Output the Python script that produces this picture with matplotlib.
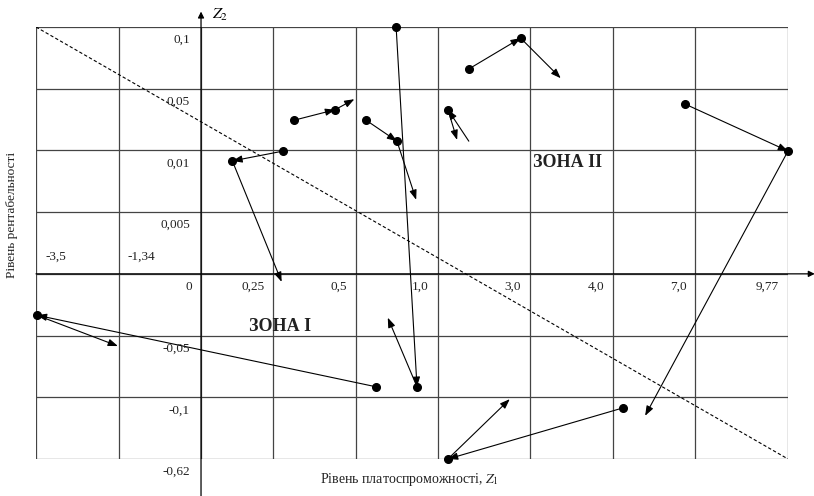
import numpy as np
import matplotlib
matplotlib.use('Agg')
import matplotlib.pyplot as plt

plt.rcParams['font.family'] = ['Liberation Serif', 'DejaVu Serif']
plt.rcParams['mathtext.fontset'] = 'stix'

# траєкторії підприємств (одиниці сітки: по x - клітинки, по y - рядки)
traj_x = [
    [4.31, 4.56, 4.21],
    [3.09, 3.58, 3.81],
    [2.96, 2.35, 2.94],
    [3.95, 4.32, 4.55],
    [5.18, 5.80, 6.28],
    [5.18, 4.93, 5.04],
    [7.77, 9.00, 7.29],
    [4.07, 0.01, 0.98],
    [7.03, 4.93, 5.67],
]
traj_y = [
    [7.00, 1.17, 2.29],
    [5.49, 5.66, 5.83],
    [4.99, 4.83, 2.87],
    [5.49, 5.15, 4.20],
    [6.32, 6.82, 6.17],
    [5.15, 5.66, 5.17],
    [5.75, 4.99, 0.70],
    [1.17, 2.33, 1.83],
    [0.83, 0.00, 0.97],
]
start_dot = [True, True, True, True, True, False, True, True, True]

x_labels = ['-3,5', '-1,34', '0', '0,25', '0,5', '1,0', '3,0', '4,0', '7,0', '9,77']
y_labels = ['0,1', '0,05', '0,01', '0,005', '', '-0,05', '-0,1', '-0,62']

# положення ліній сітки
col_lines = [0, 0.993, 1.975, 2.84, 3.83, 4.81, 5.91, 6.905, 7.89, 9]
row_lines = np.arange(7, -1, -1)

fig = plt.figure(figsize=(8.14, 4.96), dpi=100)
ax = fig.add_axes([36 / 814, 37 / 496, 752 / 814, 432 / 496])
ax.set_xlim(0, 9)
ax.set_ylim(0, 7)
ax.axis('off')

gc = '#444444'
ax.vlines(col_lines, 0, 7, color=gc, lw=0.9, zorder=1)
ax.hlines(row_lines, 0, 9, color=gc, lw=0.9, zorder=1)

# осі
ax.annotate('', xy=(9.32, 3), xytext=(0, 3), annotation_clip=False,
            arrowprops=dict(arrowstyle='-|>', lw=0.9, color='black',
                            shrinkA=0, shrinkB=0, mutation_scale=9))
ax.annotate('', xy=(col_lines[2], 7.25), xytext=(col_lines[2], -0.6), annotation_clip=False,
            arrowprops=dict(arrowstyle='-|>', lw=0.9, color='black',
                            shrinkA=0, shrinkB=0, mutation_scale=9))

# розділова лінія зон
ax.plot([0, 9], [7, 0], color='black', lw=0.8, ls=(0, (3, 2)), zorder=2)

# траєкторії
for xs, ys, sd in zip(traj_x, traj_y, start_dot):
    for i in range(len(xs) - 1):
        ax.annotate('', xy=(xs[i + 1], ys[i + 1]), xytext=(xs[i], ys[i]),
                    annotation_clip=False,
                    arrowprops=dict(arrowstyle='-|>,head_length=0.65,head_width=0.24',
                                    lw=0.8, color='black', shrinkA=0, shrinkB=0,
                                    mutation_scale=9), zorder=3)
    dx = xs[:-1] if sd else xs[1:-1]
    dy = ys[:-1] if sd else ys[1:-1]
    ax.plot(dx, dy, 'o', ms=5.5, color='black', zorder=4, clip_on=False)

# підписи по осі x
tfs = 9.5
for k, lab in enumerate(x_labels):
    if k < 2:
        ax.annotate(lab, (col_lines[k], 3), xytext=(9, 17), textcoords='offset pixels',
                    ha='left', va='center', fontsize=tfs, color='#222222')
    else:
        ax.annotate(lab, (col_lines[k], 3), xytext=(-9, -13), textcoords='offset pixels',
                    ha='right', va='center', fontsize=tfs, color='#222222')

# підписи по осі y
for r, lab in zip(row_lines, y_labels):
    if lab:
        ax.annotate(lab, (col_lines[2], r), xytext=(-11, -13), textcoords='offset pixels',
                    ha='right', va='center', fontsize=tfs, color='#222222')

ax.text(5.95, 4.81, 'ЗОНА II', fontsize=13, fontweight='bold', ha='left', va='center',
        color='#222222')
ax.text(2.55, 2.14, 'ЗОНА I', fontsize=13, fontweight='bold', ha='left', va='center',
        color='#222222')

fig.text(212 / 814, 1 - 15 / 496, '$Z_2$', fontsize=11.5, ha='left', va='center')
fig.text(320 / 814, 1 - 480 / 496, 'Рівень платоспроможності, $Z_1$', fontsize=10,
         ha='left', va='center', color='#222222')
fig.text(12 / 814, 1 - 215 / 496, 'Рівень рентабельності', fontsize=9.6, rotation=90,
         ha='center', va='center', color='#222222')

fig.savefig('out.png', dpi=100)
